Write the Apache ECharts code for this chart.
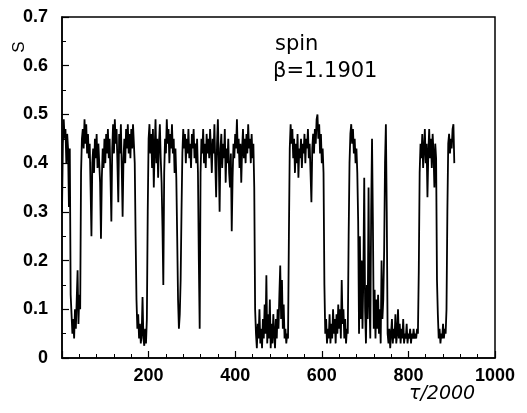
<!DOCTYPE html>
<html>
<head>
<meta charset="utf-8">
<script src="https://cdn.jsdelivr.net/npm/echarts@6/dist/echarts.min.js"></script>
<style>
  html, body { margin: 0; padding: 0; background: #fff; }
  #chart { width: 527px; height: 413px; }
</style>
</head>
<body>
<div id="chart"></div>
<script>
// S vs tau/2000, one sample every 2 units of tau/2000
var tauStep = 2;
var s000 = [0.30, 0.44, 0.49, 0.45, 0.47, 0.40, 0.46, 0.43, 0.31, 0.43,
  0.13, 0.09, 0.05, 0.08, 0.04, 0.10, 0.06, 0.12, 0.18, 0.07,
  0.13, 0.10, 0.38, 0.45, 0.47, 0.43, 0.49, 0.44, 0.48, 0.42,
  0.46, 0.41, 0.44, 0.35, 0.25, 0.40, 0.43, 0.38, 0.45, 0.41,
  0.46, 0.39, 0.44, 0.40, 0.36, 0.245, 0.37, 0.43, 0.39, 0.45];
var s100 = [0.40, 0.46, 0.42, 0.47, 0.41, 0.45, 0.37, 0.28, 0.43, 0.48,
  0.42, 0.49, 0.44, 0.47, 0.40, 0.32, 0.46, 0.42, 0.48, 0.39,
  0.29, 0.41, 0.45, 0.40, 0.47, 0.43, 0.48, 0.42, 0.46, 0.41,
  0.47, 0.43, 0.48, 0.44, 0.40, 0.25, 0.12, 0.06, 0.09, 0.04,
  0.07, 0.03, 0.05, 0.125, 0.04, 0.025, 0.06, 0.03, 0.08, 0.30];
var s200 = [0.45, 0.48, 0.42, 0.46, 0.39, 0.47, 0.35, 0.43, 0.49, 0.40,
  0.45, 0.37, 0.44, 0.48, 0.41, 0.36, 0.27, 0.15, 0.38, 0.45,
  0.42, 0.49, 0.44, 0.47, 0.40, 0.46, 0.43, 0.48, 0.42, 0.45,
  0.38, 0.43, 0.37, 0.25, 0.12, 0.06, 0.09, 0.16, 0.30, 0.42,
  0.47, 0.43, 0.46, 0.40, 0.45, 0.42, 0.47, 0.41, 0.44, 0.39];
var s300 = [0.46, 0.43, 0.47, 0.41, 0.44, 0.40, 0.45, 0.38, 0.20, 0.06,
  0.38, 0.45, 0.42, 0.47, 0.40, 0.44, 0.39, 0.46, 0.42, 0.45,
  0.41, 0.47, 0.43, 0.38, 0.45, 0.42, 0.48, 0.40, 0.33, 0.44,
  0.49, 0.41, 0.30, 0.43, 0.46, 0.39, 0.44, 0.41, 0.47, 0.36,
  0.43, 0.40, 0.45, 0.38, 0.35, 0.42, 0.26, 0.37, 0.44, 0.41];
var s400 = [0.46, 0.43, 0.49, 0.42, 0.45, 0.39, 0.44, 0.36, 0.43, 0.47,
  0.41, 0.45, 0.40, 0.46, 0.42, 0.48, 0.43, 0.45, 0.40, 0.46,
  0.41, 0.44, 0.35, 0.10, 0.05, 0.02, 0.07, 0.04, 0.10, 0.03,
  0.06, 0.02, 0.08, 0.04, 0.11, 0.05, 0.17, 0.03, 0.09, 0.04,
  0.12, 0.02, 0.07, 0.03, 0.09, 0.05, 0.02, 0.08, 0.04, 0.10];
var s500 = [0.06, 0.13, 0.19, 0.08, 0.16, 0.06, 0.11, 0.04, 0.06, 0.03,
  0.05, 0.04, 0.25, 0.43, 0.48, 0.44, 0.47, 0.41, 0.45, 0.38,
  0.44, 0.40, 0.46, 0.37, 0.43, 0.41, 0.45, 0.39, 0.44, 0.42,
  0.46, 0.40, 0.45, 0.43, 0.47, 0.41, 0.44, 0.38, 0.32, 0.43,
  0.46, 0.42, 0.47, 0.44, 0.49, 0.50, 0.45, 0.48, 0.42, 0.46];
var s600 = [0.40, 0.43, 0.38, 0.15, 0.05, 0.08, 0.03, 0.06, 0.04, 0.09,
  0.03, 0.07, 0.04, 0.10, 0.05, 0.08, 0.03, 0.09, 0.05, 0.11,
  0.06, 0.10, 0.04, 0.16, 0.07, 0.10, 0.04, 0.08, 0.03, 0.06,
  0.05, 0.25, 0.40, 0.46, 0.48, 0.44, 0.47, 0.42, 0.45, 0.40,
  0.43, 0.38, 0.28, 0.05, 0.25, 0.08, 0.20, 0.06, 0.17, 0.37];
var s700 = [0.10, 0.03, 0.15, 0.08, 0.35, 0.12, 0.04, 0.30, 0.45, 0.28,
  0.06, 0.14, 0.04, 0.12, 0.06, 0.13, 0.05, 0.10, 0.03, 0.20,
  0.08, 0.12, 0.22, 0.40, 0.48, 0.30, 0.05, 0.03, 0.06, 0.02,
  0.05, 0.08, 0.03, 0.06, 0.04, 0.09, 0.03, 0.05, 0.10, 0.04,
  0.07, 0.03, 0.06, 0.04, 0.08, 0.03, 0.05, 0.04, 0.07, 0.03];
var s800 = [0.05, 0.04, 0.06, 0.03, 0.05, 0.04, 0.06, 0.04, 0.05, 0.04,
  0.06, 0.05, 0.18, 0.38, 0.44, 0.41, 0.46, 0.39, 0.43, 0.47,
  0.40, 0.44, 0.33, 0.42, 0.47, 0.41, 0.45, 0.39, 0.46, 0.42,
  0.35, 0.44, 0.41, 0.16, 0.09, 0.04, 0.06, 0.03, 0.05, 0.04,
  0.07, 0.04, 0.06, 0.05, 0.10, 0.30, 0.44, 0.46, 0.42, 0.45,
  0.43, 0.47, 0.48, 0.40];

var xTicks = [200, 400, 600, 800, 1000];
var yTicks = ['0', '0.1', '0.2', '0.3', '0.4', '0.5', '0.6', '0.7'];

var sValues = [].concat(s000, s100, s200, s300, s400, s500, s600, s700, s800);
var seriesData = sValues.map(function (v, i) {
  return [i * tauStep, v];
});

var myChart = echarts.init(document.getElementById('chart'));
var tickFont = 'Liberation Sans, Arial, sans-serif';
var option = {
  backgroundColor: '#fff',
  animation: false,
  grid: {
    left: 62,
    right: 32,
    top: 17,
    bottom: 55,
    show: true,
    borderColor: '#000',
    borderWidth: 1.5,
    backgroundColor: 'transparent'
  },
  xAxis: {
    type: 'value',
    min: 0,
    max: 1000,
    interval: 200,
    axisLine: { lineStyle: { color: '#000', width: 1.5 } },
    axisTick: { inside: true, length: 7, lineStyle: { color: '#000', width: 1.2 } },
    minorTick: { show: true, splitNumber: 5, length: 4, lineStyle: { color: '#000' } },
    splitLine: { show: false },
    axisLabel: {
      margin: 9,
      color: '#000',
      fontSize: 18,
      fontWeight: 'bold',
      fontFamily: tickFont,
      formatter: function (v) {
        return xTicks.indexOf(v) >= 0 ? String(v) : '';
      }
    }
  },
  yAxis: {
    type: 'value',
    min: 0,
    max: 0.7,
    interval: 0.1,
    axisLine: { show: true, lineStyle: { color: '#000', width: 1.5 } },
    axisTick: { show: true, inside: true, length: 7, lineStyle: { color: '#000', width: 1.2 } },
    minorTick: { show: true, splitNumber: 2, length: 4, lineStyle: { color: '#000' } },
    splitLine: { show: false },
    axisLabel: {
      margin: 14,
      color: '#000',
      fontSize: 18,
      fontWeight: 'bold',
      fontFamily: tickFont,
      formatter: function (v) {
        return yTicks[Math.round(v * 10)];
      }
    }
  },
  graphic: [
    {
      type: 'text', x: 275, y: 34,
      style: { text: 'spin', fontSize: 21, fontFamily: 'DejaVu Sans', fill: '#000' }
    },
    {
      type: 'text', x: 273, y: 61,
      style: { text: 'β=1.1901', fontSize: 21, fontFamily: 'DejaVu Sans', fill: '#000' }
    },
    {
      type: 'text', x: 409, y: 385,
      style: { text: 'τ/2000', fontSize: 19, fontStyle: 'italic', fontFamily: 'DejaVu Sans', fill: '#000' }
    },
    {
      type: 'text', x: 19, y: 47, rotation: Math.PI / 2,
      style: { text: 'S', fontSize: 17, fontFamily: tickFont, fill: '#000', align: 'center', verticalAlign: 'middle' }
    }
  ],
  series: [
    {
      type: 'line',
      data: seriesData,
      showSymbol: false,
      symbol: 'none',
      lineStyle: { color: '#000', width: 1.8 }
    }
  ]
};
myChart.setOption(option);
</script>
</body>
</html>
